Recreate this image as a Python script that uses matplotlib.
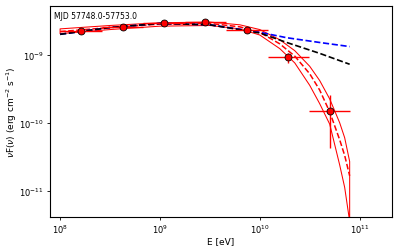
import numpy as np
import matplotlib
matplotlib.use('Agg')
import matplotlib.pyplot as plt

# SED points (log10 E [eV], log10 nuFnu [erg cm-2 s-1])
logE_pts  = [8.21, 8.625, 9.04, 9.455, 9.87, 10.285, 10.70]
logE_half = 0.2075
logF_pts  = [-8.65, -8.59, -8.54, -8.52, -8.63, -9.04, -9.83]
F_err     = [1.3e-10, 1.2e-10, 1.3e-10, 1.5e-10, 1.6e-10, 1.6e-10, 1.05e-10]

# cutoff model (red) - central, upper, lower
logE_mod  = [8.0, 8.5, 9.0, 9.5, 9.8, 10.0, 10.2, 10.35, 10.5, 10.6, 10.7, 10.8, 10.85, 10.9]
logF_mid  = [-8.66, -8.60, -8.55, -8.54, -8.59, -8.67, -8.84, -9.02, -9.28, -9.52, -9.84, -10.25, -10.48, -10.78]
logF_up   = [-8.62, -8.57, -8.53, -8.52, -8.56, -8.63, -8.78, -8.94, -9.17, -9.38, -9.65, -10.00, -10.22, -10.57]
logF_low  = [-8.69, -8.63, -8.58, -8.57, -8.62, -8.71, -8.91, -9.12, -9.45, -9.72, -10.02, -10.62, -10.95, -11.45]

# other models
logE_oth  = [8.0, 8.5, 9.0, 9.5, 10.0, 10.27, 10.6, 10.9]
logF_blue = [-8.70, -8.60, -8.54, -8.56, -8.67, -8.75, -8.82, -8.88]
logF_blk  = [-8.70, -8.60, -8.54, -8.56, -8.68, -8.82, -8.98, -9.14]

E_pts = 10**np.array(logE_pts)
F_pts = 10**np.array(logF_pts)
xerr = [E_pts - 10**(np.array(logE_pts) - logE_half), 10**(np.array(logE_pts) + logE_half) - E_pts]

fig = plt.figure(figsize=(7.98, 5.02), dpi=50)
ax = fig.add_axes([0.125, 0.131, 0.857, 0.841])

E_mod = 10**np.array(logE_mod)
ax.fill_between(E_mod, 10**np.array(logF_low), 10**np.array(logF_up),
                facecolor='none', edgecolor='red', linewidth=1.5)
ax.plot(E_mod, 10**np.array(logF_mid), 'r--', lw=2.2)

E_oth = 10**np.array(logE_oth)
ax.plot(E_oth, 10**np.array(logF_blue), '--', color='blue', lw=2.4)
ax.plot(E_oth, 10**np.array(logF_blk), '--', color='black', lw=2.4)

ax.errorbar(E_pts, F_pts, xerr=xerr, yerr=F_err, fmt='o', color='red', ecolor='red',
            elinewidth=2.0, markersize=10, markeredgecolor='black', markeredgewidth=1.2, zorder=5)

ax.set_xscale('log')
ax.set_yscale('log')
ax.set_xlim(0.79e8, 2.1e11)
ax.set_ylim(4.1e-12, 5.2e-9)
ax.minorticks_off()
ax.tick_params(labelsize=12, length=5, width=1.2)
for s in ax.spines.values():
    s.set_linewidth(1.6)

ax.set_xlabel('E [eV]', fontsize=13, labelpad=1)
ax.set_ylabel(r'$\nu$F($\nu$) (erg cm$^{-2}$ s$^{-1}$)', fontsize=13, labelpad=0)
ax.text(0.012, 0.975, 'MJD 57748.0-57753.0', transform=ax.transAxes, fontsize=11,
        ha='left', va='top')

fig.savefig('out.png', dpi=50)
